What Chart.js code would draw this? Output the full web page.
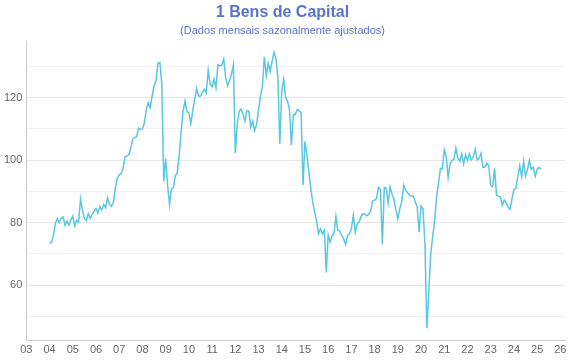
<!DOCTYPE html>
<html>
<head>
<meta charset="utf-8">
<script src="https://cdn.jsdelivr.net/npm/chart.js@4/dist/chart.umd.min.js"></script>
<style>
  html, body { margin: 0; padding: 0; background: #fff; }
  #wrap { width: 570px; height: 360px; }
</style>
</head>
<body>
<div id="wrap"><canvas id="chartOne"></canvas></div>
<script>
// monthly series, first value = Jan 2004
const startYear = 2004;
const values = [
  73.4, 73.8, 75.9, 79.7, 81.3, 80.0, 81.4, 81.8, 79.1, 80.5, 79.2, 80.8,          // 2004
  82.1, 78.9, 80.8, 80.2, 87.5, 84.0, 81.3, 80.7, 82.9, 81.3, 82.8, 83.6,          // 2005
  84.5, 83.1, 85.2, 84.0, 85.8, 84.8, 87.9, 85.9, 85.2, 86.5, 91.0, 94.2,          // 2006
  95.3, 95.8, 97.4, 101.0, 101.4, 101.7, 103.9, 106.8, 107.2, 107.5, 110.3, 109.8, // 2007
  110.0, 111.9, 116.2, 118.4, 116.8, 120.5, 123.8, 125.4, 131.0, 131.3, 124.5, 93.1, // 2008
  100.6, 92.0, 85.8, 90.7, 91.2, 95.0, 96.0, 101.7, 109.2, 115.7, 118.9, 115.5,    // 2009
  115.2, 111.7, 115.7, 119.5, 122.8, 120.5, 120.5, 121.6, 122.7, 121.6, 128.8, 124.3, // 2010
  123.5, 125.9, 123.2, 130.5, 130.2, 130.4, 132.4, 126.4, 123.8, 125.4, 127.5, 130.5, // 2011
  102.3, 111.4, 115.7, 116.4, 114.6, 112.5, 115.9, 115.7, 110.5, 112.5, 109.5, 111.4, // 2012
  116.2, 120.5, 123.5, 133.1, 127.0, 131.0, 128.4, 131.5, 134.5, 132.4, 126.4, 105.2, // 2013
  122.1, 125.9, 120.0, 118.9, 116.2, 104.9, 114.6, 114.6, 116.2, 115.7, 115.2, 92.0,  // 2014
  106.0, 101.7, 96.3, 91.0, 86.7, 83.4, 80.5, 76.4, 78.1, 76.4, 77.5, 64.1,        // 2015
  76.1, 73.8, 75.9, 76.4, 82.0, 77.5, 77.3, 75.9, 74.8, 73.0, 75.9, 76.4,          // 2016
  78.1, 82.4, 77.0, 79.7, 80.2, 82.0, 82.9, 82.7, 82.2, 82.7, 83.8, 87.0,          // 2017
  87.2, 87.7, 91.3, 90.6, 73.0, 91.3, 91.0, 86.3, 91.5, 89.1, 87.5, 84.0,          // 2018
  81.3, 84.5, 86.7, 92.0, 90.4, 89.6, 88.8, 88.5, 88.5, 86.7, 85.0, 77.0,          // 2019
  85.3, 84.5, 73.2, 46.3, 58.0, 70.0, 75.5, 80.5, 88.0, 92.5, 97.4, 97.2,          // 2020
  103.3, 101.2, 94.5, 98.8, 99.9, 100.3, 103.9, 100.6, 99.6, 102.0, 98.8, 101.7,   // 2021
  99.9, 102.0, 100.1, 101.0, 103.5, 100.1, 100.6, 102.2, 97.7, 97.7, 99.0, 98.2,   // 2022
  92.0, 91.5, 97.4, 88.8, 88.5, 88.3, 85.6, 87.2, 86.3, 85.0, 84.2, 87.7,          // 2023
  90.6, 90.9, 94.7, 98.2, 94.7, 99.6, 94.9, 96.9, 99.9, 97.1, 97.7, 94.9,          // 2024
  97.1, 97.7, 97.1                                                                 // 2025
];

const xYears = [];
for (let y = 2003; y <= 2026; y++) xYears.push(y);
const yGrid = [50, 60, 70, 80, 90, 100, 110, 120, 130];
const yLabels = [60, 80, 100, 120];

const blue = '#5a73d0';
const fontFam = '"Liberation Sans", Arial, sans-serif';
const points = values.map((v, i) => ({ x: startYear + i / 12, y: v }));

new Chart(document.getElementById('chartOne'), {
    type: 'line',
    data: {
        datasets: [{
            label: '1 Bens de Capital',
            data: points,
            borderColor: '#58c7e0',
            borderWidth: 1.5,
            pointRadius: 0,
            tension: 0,
            fill: false
        }]
    },
    options: {
        responsive: true,
        maintainAspectRatio: false,
        animation: false,
        layout: { padding: { left: 0, right: 5, top: 0, bottom: 0 } },
        plugins: {
            legend: { display: false },
            tooltip: { enabled: false },
            title: {
                display: true,
                text: '1 Bens de Capital',
                color: blue,
                font: { family: fontFam, size: 16, weight: 'bold' },
                padding: { top: 3, bottom: 2 }
            },
            subtitle: {
                display: true,
                text: '(Dados mensais sazonalmente ajustados)',
                color: blue,
                font: { family: fontFam, size: 11 },
                padding: { top: 0, bottom: 4 }
            }
        },
        scales: {
            x: {
                type: 'linear',
                min: 2003,
                max: 2026.2,
                afterBuildTicks: s => { s.ticks = xYears.map(v => ({ value: v })); },
                grid: { display: false, drawTicks: false },
                border: { display: true, color: '#cccccc' },
                ticks: {
                    padding: 3,
                    color: '#666',
                    font: { family: fontFam, size: 11 },
                    maxRotation: 0,
                    autoSkip: false,
                    callback: v => String(v % 100).padStart(2, '0')
                }
            },
            y: {
                min: 42.2,
                max: 138,
                afterBuildTicks: s => { s.ticks = yGrid.map(v => ({ value: v })); },
                grid: {
                    drawTicks: false,
                    color: c => yLabels.includes(c.tick && c.tick.value) ? '#e8e8e8' : '#f1f1f1'
                },
                border: { display: true, color: '#cccccc' },
                ticks: {
                    padding: 4,
                    color: '#666',
                    font: { family: fontFam, size: 11 },
                    callback: v => yLabels.includes(v) ? String(v) : ''
                }
            }
        }
    }
});
</script>
</body>
</html>
